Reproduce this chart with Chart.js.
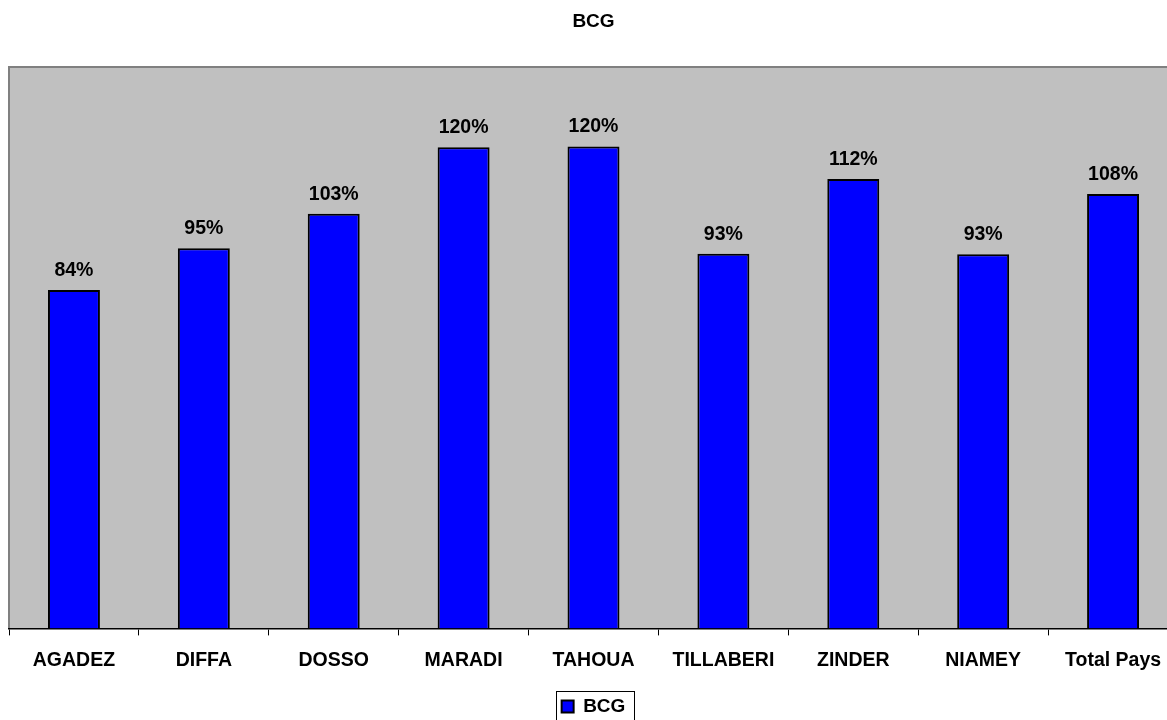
<!DOCTYPE html>
<html>
<head>
<meta charset="utf-8">
<script src="https://cdn.jsdelivr.net/npm/chart.js@4"></script>
<style>
  html, body { margin: 0; padding: 0; background: #fff; overflow: hidden; }
  canvas { display: block; }
</style>
</head>
<body>
<canvas id="myChart" width="1180" height="726"></canvas>
<script>
const regions = ['AGADEZ', 'DIFFA', 'DOSSO', 'MARADI', 'TAHOUA', 'TILLABERI', 'ZINDER', 'NIAMEY', 'Total Pays'];
const bcgCoverage = [84.4, 94.8, 103.4, 120.0, 120.2, 93.4, 112.1, 93.3, 108.3];
const yMin = 0;
const yMax = 140;

const FONT = "'Liberation Sans', Arial, sans-serif";

// grey plot area with the darker left/top edge
const plotBackground = {
    id: 'plotBackground',
    beforeDraw(chart) {
        const { ctx, chartArea: a } = chart;
        ctx.save();
        ctx.fillStyle = '#C0C0C0';
        ctx.fillRect(a.left, a.top, a.right - a.left, a.bottom - a.top);
        ctx.strokeStyle = '#808080';
        ctx.lineWidth = 2;
        ctx.beginPath();
        ctx.moveTo(a.left, a.bottom);
        ctx.lineTo(a.left, a.top);
        ctx.lineTo(a.right, a.top);
        ctx.stroke();
        ctx.restore();
    }
};

// percent labels above the bars
const barLabels = {
    id: 'barLabels',
    afterDatasetsDraw(chart) {
        const { ctx } = chart;
        const meta = chart.getDatasetMeta(0);
        ctx.save();
        ctx.font = 'bold 19.5px ' + FONT;
        ctx.fillStyle = '#000';
        ctx.textAlign = 'center';
        ctx.textBaseline = 'alphabetic';
        meta.data.forEach((bar, i) => {
            ctx.fillText(Math.round(bcgCoverage[i]) + '%', bar.x, bar.y - 14);
        });
        ctx.restore();
    }
};

// thin frame round the legend
const legendFrame = {
    id: 'legendFrame',
    afterDraw(chart) {
        const boxes = chart.legend.legendHitBoxes;
        if (!boxes || !boxes.length) return;
        const b = boxes[0];
        const { ctx } = chart;
        ctx.save();
        ctx.strokeStyle = '#000';
        ctx.lineWidth = 1;
        ctx.strokeRect(Math.round(b.left - 6) + 0.5, Math.round(b.top - 6) + 0.5,
            Math.round(b.width + 14), Math.round(b.height + 12));
        ctx.restore();
    }
};

const ctx = document.getElementById('myChart');

new Chart(ctx, {
    type: 'bar',
    data: {
        labels: regions,
        datasets: [{
            label: 'BCG',
            data: bcgCoverage,
            backgroundColor: '#0000FF',
            borderColor: '#000000',
            borderWidth: 2,
            borderSkipped: 'bottom',
            barPercentage: 0.4,
            categoryPercentage: 1.0,
        }]
    },
    options: {
        responsive: false,
        animation: false,
        layout: { padding: { left: 9, right: 2, top: 0, bottom: 0 } },
        plugins: {
            title: {
                display: true,
                text: 'BCG',
                color: '#000',
                font: { family: FONT, size: 19, weight: 'bold' },
                padding: { top: 10, bottom: 34.2 }
            },
            legend: {
                display: true,
                position: 'bottom',
                labels: {
                    color: '#000',
                    font: { family: FONT, size: 19, weight: 'bold' },
                    boxWidth: 12,
                    boxHeight: 12,
                    padding: 10.2
                }
            },
            tooltip: { enabled: false }
        },
        scales: {
            x: {
                grid: {
                    offset: true,
                    drawOnChartArea: false,
                    drawTicks: true,
                    tickLength: 7,
                    color: '#000'
                },
                border: { color: '#000', width: 1.5 },
                ticks: {
                    color: '#000',
                    padding: 14,
                    maxRotation: 0,
                    autoSkip: false,
                    font: { family: FONT, size: 19.5, weight: 'bold' }
                }
            },
            y: {
                display: false,
                min: yMin,
                max: yMax
            }
        }
    },
    plugins: [plotBackground, barLabels, legendFrame]
});
</script>
</body>
</html>
